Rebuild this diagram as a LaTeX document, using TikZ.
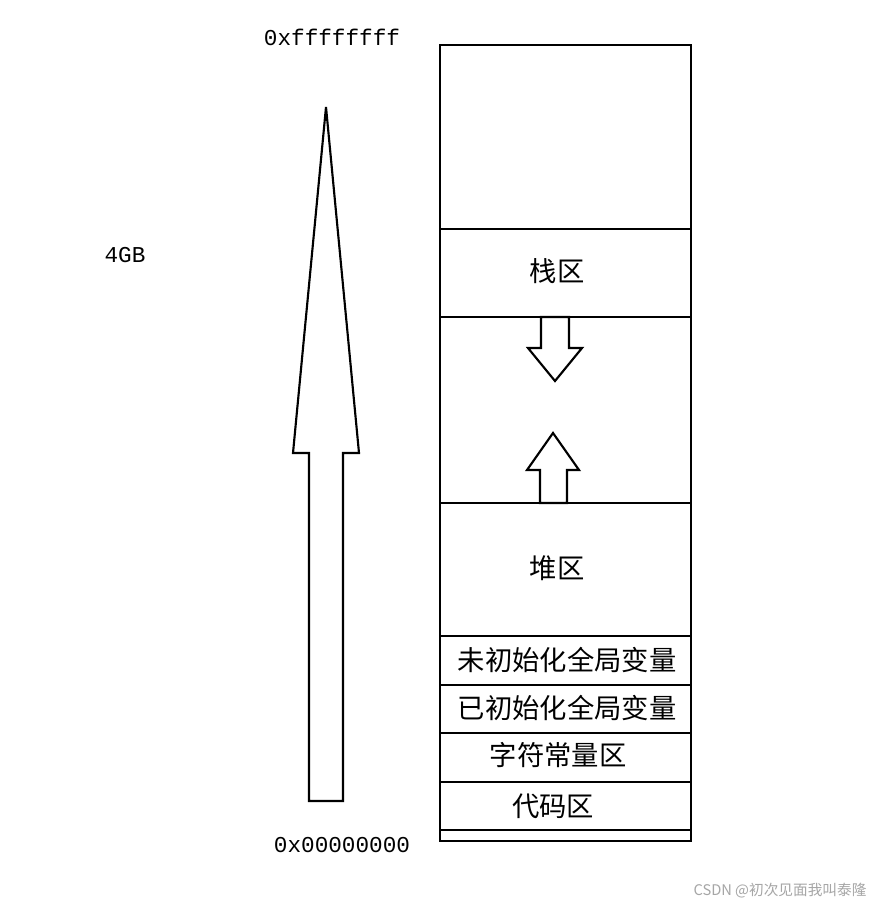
\documentclass[tikz,border=0pt]{standalone}
\usepackage{fontspec}
\setmainfont{Liberation Serif}
\setmonofont{Liberation Mono}
\newfontfamily\cjk{Noto Sans CJK SC}
\begin{document}
\begin{tikzpicture}[x=0.75pt,y=-0.75pt,line width=1.6pt,
  lab/.style={font=\cjk\fontsize{20.5}{22}\selectfont,inner sep=0},
  adr/.style={font=\ttfamily\fontsize{17}{19}\selectfont,inner sep=0}]
\useasboundingbox[fill=white] (0,0) rectangle (888,909);
\draw (440,45) rectangle (691,841);
\foreach \y in {229,317,503,636,685,733,782,830} \draw (440,\y) -- (691,\y);
\draw (326,107) -- (359,453) -- (343,453) -- (343,801) -- (309,801) -- (309,453) -- (293,453) -- cycle;
\draw (541,317) -- (569,317) -- (569,348) -- (582,348) -- (555,381) -- (528,348) -- (541,348) -- cycle;
\draw (553,433) -- (579,470) -- (567,470) -- (567,503) -- (540,503) -- (540,470) -- (527,470) -- cycle;
\node[adr] (top) at (332,37) {0xffffffff};
\node[adr] (gb) at (125,255) {4GB};
\node[adr] (bot) at (342,845) {0x00000000};
\node[lab] (s) at (557,271) {栈区};
\node[lab] (h) at (557,568) {堆区};
\node[lab] (u) at (567,660) {未初始化全局变量};
\node[lab] (i) at (567,708) {已初始化全局变量};
\node[lab] (c) at (558,755) {字符常量区};
\node[lab] (d) at (553,806) {代码区};
\node[font=\cjk\fontsize{11}{13}\selectfont,text=gray!70,inner sep=0] (w) at (780,891) {CSDN @初次见面我叫泰隆};
\end{tikzpicture}
\end{document}
